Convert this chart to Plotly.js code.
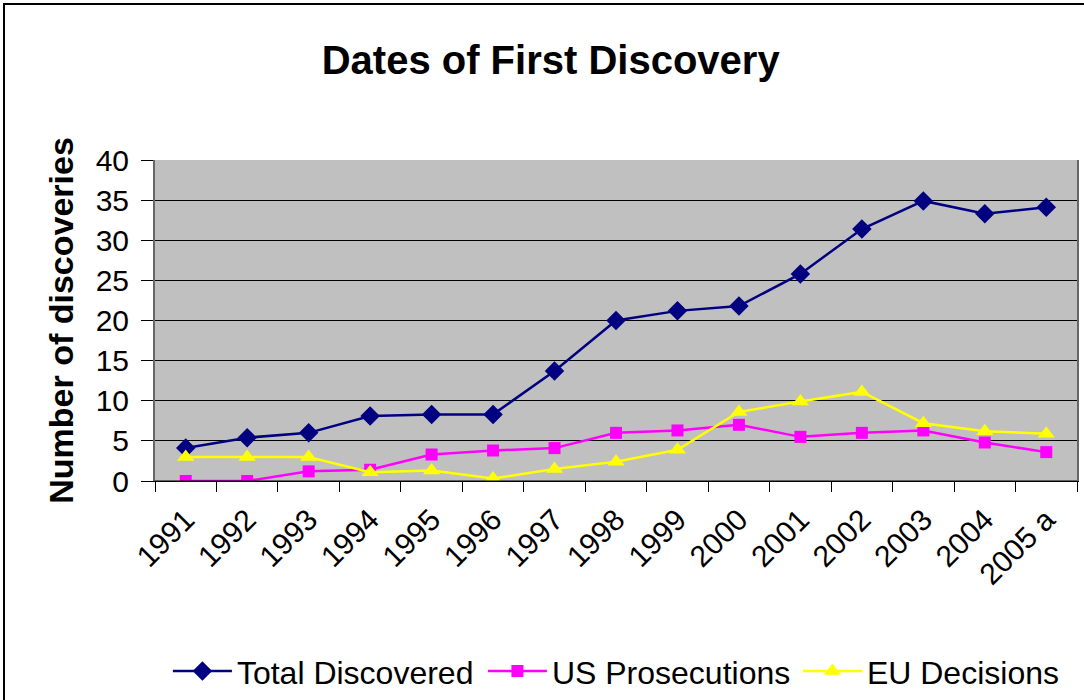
<!DOCTYPE html>
<html>
<head>
<meta charset="utf-8">
<script src="https://cdn.plot.ly/plotly-3.0.1.min.js"></script>
<style>
html,body{margin:0;padding:0;background:#fff;overflow:hidden;}
#chart{width:1084px;height:700px;}
#frame{position:absolute;left:3px;top:3px;width:1200px;height:800px;border:2px solid #000;pointer-events:none;}
</style>
</head>
<body>
<div id="chart"></div>
<div id="frame"></div>
<script>
const years = ["1991","1992","1993","1994","1995","1996","1997","1998","1999","2000","2001","2002","2003","2004","2005 a"];
const totalDiscovered = [4.1, 5.4, 6.0, 8.1, 8.3, 8.3, 13.7, 20.0, 21.2, 21.8, 25.8, 31.4, 34.9, 33.3, 34.1];
const usProsecutions = [0, 0, 1.2, 1.4, 3.3, 3.8, 4.1, 6.0, 6.3, 7.0, 5.5, 6.0, 6.3, 4.8, 3.6];
const euDecisions = [3.0, 3.0, 3.0, 1.1, 1.3, 0.3, 1.5, 2.4, 3.9, 8.6, 9.9, 11.1, 7.2, 6.2, 5.9];

const traces = [
  {x: years, y: totalDiscovered, name: "Total Discovered", type: "scatter", mode: "lines+markers", legendwidth: 241,
   line: {color: "#000080", width: 2.5}, marker: {symbol: "diamond", size: 15, color: "#000080"}},
  {x: years, y: usProsecutions, name: "US Prosecutions", type: "scatter", mode: "lines+markers", legendwidth: 241,
   line: {color: "#FF00FF", width: 2.5}, marker: {symbol: "square", size: 12, color: "#FF00FF"}},
  {x: years, y: euDecisions, name: "EU Decisions", type: "scatter", mode: "lines+markers", legendwidth: 200,
   line: {color: "#FFFF00", width: 2.5}, marker: {symbol: "triangle-up", size: 15, color: "#FFFF00"}}
];

const layout = {
  width: 1084, height: 700,
  margin: {l: 155, r: 7, t: 160, b: 219},
  paper_bgcolor: "#ffffff",
  plot_bgcolor: "#C0C0C0",
  font: {family: "Arial, 'Liberation Sans', sans-serif", color: "#000"},
  title: {text: "<b>Dates of First Discovery</b>", font: {size: 40, color: "#000"}, x: 0.508, xanchor: "center", y: 0.915, yanchor: "middle"},
  showlegend: true,
  legend: {orientation: "h", x: 0.014, xanchor: "left", yref: "container", y: 0.041, yanchor: "middle",
           font: {size: 32}, bgcolor: "rgba(0,0,0,0)", itemwidth: 59, tracegroupgap: 0},
  xaxis: {type: "category", tickangle: -45, tickfont: {size: 30}, tickson: "boundaries",
          ticks: "outside", ticklen: 10, tickcolor: "#000", showgrid: false,
          ticklabelstandoff: 8,
          showline: true, linecolor: "#000", linewidth: 1, mirror: false, zeroline: false,
          range: [-0.5, 14.5], fixedrange: true},
  yaxis: {range: [0, 40], dtick: 5, tickfont: {size: 30}, ticks: "outside", ticklen: 12, tickcolor: "#000",
          ticklabelstandoff: 6,
          showgrid: true, gridcolor: "#000", gridwidth: 1, zeroline: false,
          showline: true, linecolor: "#666", linewidth: 2, mirror: true,
          title: {text: "<b>Number of discoveries</b>", font: {size: 34}, standoff: 12}},
  shapes: [{type: "line", xref: "paper", yref: "paper", x0: 0, x1: 1, y0: 0, y1: 0, line: {color: "#000", width: 1}}]
};

Plotly.newPlot("chart", traces, layout, {displayModeBar: false, staticPlot: true});
</script>
</body>
</html>
